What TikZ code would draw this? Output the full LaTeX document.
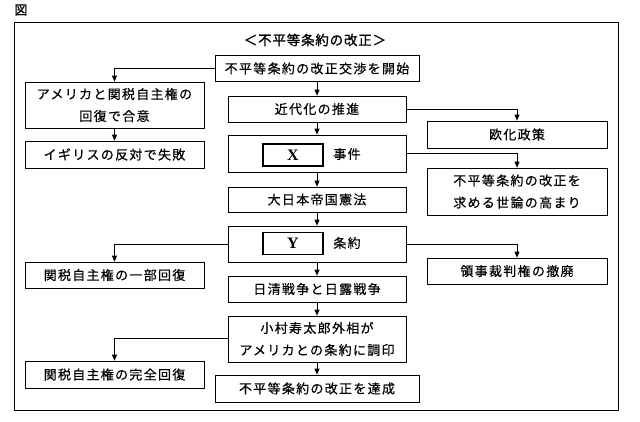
\documentclass[tikz,border=0pt]{standalone}
\usepackage{fontspec}
\usetikzlibrary{arrows.meta}
\newfontfamily\jp[LetterSpace=10,FakeBold=0.4]{Noto Sans CJK JP}
\newfontfamily\jpb[LetterSpace=6,FakeBold=1.2]{Noto Sans CJK JP}
\newfontfamily\latb{Liberation Serif}
\tikzset{
  stepbox/.style={draw, line width=0.7pt, inner sep=0pt, align=center,
    font=\jp\fontsize{13}{22}\selectfont, minimum height=26pt},
  mainbox/.style={stepbox, minimum width=178pt},
  sidebox/.style={stepbox, minimum width=179pt},
  rbox/.style={stepbox, minimum width=180pt},
  blank/.style={draw, line width=1.8pt, minimum width=60pt, minimum height=22pt,
    inner sep=0pt, font=\latb\bfseries\fontsize{16}{18}\selectfont},
  conn/.style={line width=0.7pt, -{Triangle[length=6pt,width=5pt]}},
}
\begin{document}
\begin{tikzpicture}[x=1pt,y=-1pt]
\useasboundingbox (0,0) rectangle (640,421);
\node[font=\jpb\fontsize{13}{15}\selectfont] (zu) at (21,10) {図};
\draw[line width=0.8pt] (14,22) rectangle (618,410);
\node[font=\jpb\fontsize{13.5}{15}\selectfont] (title) at (315,40) {＜不平等条約の改正＞};

\node[stepbox, minimum width=204pt] (start) at (317,68.5) {不平等条約の改正交渉を開始};
\node[sidebox, minimum height=46pt] (ame) at (114.5,105) {アメリカと関税自主権の\\回復で合意};
\node[sidebox, minimum height=27pt] (igi) at (114.5,154.5) {イギリスの反対で失敗};
\node[mainbox] (kin) at (317,109) {近代化の推進};
\node[rbox, minimum height=27pt] (ouka) at (517,134.5) {欧化政策};
\node[mainbox, minimum height=37pt] (xbox) at (317,153.5) {};
\node[blank] (xin) at (293,155) {X};
\node[font=\jp\fontsize{13}{15}\selectfont] (jiken) at (347,154) {事件};
\node[rbox, minimum height=47pt] (yoron) at (517,191.5) {不平等条約の改正を\\求める世論の高まり};
\node[mainbox, minimum height=25pt] (kenpo) at (317,199.5) {大日本帝国憲法};
\node[mainbox, minimum height=36pt] (ybox) at (317,244) {};
\node[blank] (yin) at (293,243.5) {Y};
\node[font=\jp\fontsize{13}{15}\selectfont] (jouyaku) at (347,243) {条約};
\node[sidebox] (ichibu) at (114.5,275) {関税自主権の一部回復};
\node[rbox] (ryoji) at (517,271) {領事裁判権の撤廃};
\node[mainbox] (nisshin) at (317,289) {日清戦争と日露戦争};
\node[mainbox, minimum height=46pt] (komura) at (317,339) {小村寿太郎外相が\\アメリカとの条約に調印};
\node[sidebox, minimum height=27pt] (kanzen) at (114.5,374.5) {関税自主権の完全回復};
\node[stepbox, minimum width=204pt, minimum height=27pt] (tassei) at (317,388.5) {不平等条約の改正を達成};

\draw[conn] (start.south) -- (kin.north);
\draw[conn] (kin.south) -- (xbox.north);
\draw[conn] (xbox.south) -- (kenpo.north);
\draw[conn] (kenpo.south) -- (ybox.north);
\draw[conn] (ybox.south) -- (nisshin.north);
\draw[conn] (nisshin.south) -- (komura.north);
\draw[conn] (komura.south) -- (tassei.north);
\draw[conn] (ame.south) -- (igi.north);
\draw[conn] (start.west) -| (ame.north);
\draw[conn] (kin.east) -| (ouka.north);
\draw[conn] (xbox.east) -| (yoron.north);
\draw[conn] (ybox.west) -| (ichibu.north);
\draw[conn] (ybox.east) -| (ryoji.north);
\draw[conn] ([yshift=1pt]komura.west) -| (kanzen.north);
\end{tikzpicture}
\end{document}
